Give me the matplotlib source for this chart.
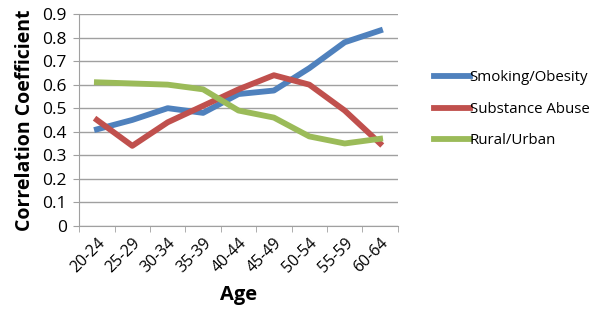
import numpy as np
import matplotlib.pyplot as plt

plt.rcParams['font.family'] = ['Open Sans', 'DejaVu Sans']

# Data
ages = ['20-24', '25-29', '30-34', '35-39', '40-44', '45-49', '50-54', '55-59', '60-64']
smoking = [0.41, 0.45, 0.50, 0.48, 0.56, 0.575, 0.67, 0.78, 0.83]
substance = [0.45, 0.34, 0.44, 0.51, 0.58, 0.64, 0.60, 0.49, 0.35]
rural = [0.61, 0.605, 0.60, 0.58, 0.49, 0.46, 0.38, 0.35, 0.37]

fig = plt.figure(figsize=(6, 3.19), dpi=100)
ax = fig.add_axes([0.132, 0.292, 0.531, 0.664])

x = np.arange(len(ages))
lw = 4.2
ax.plot(x, smoking, color='#4F81BD', lw=lw, label='Smoking/Obesity')
ax.plot(x, substance, color='#C0504D', lw=lw, label='Substance Abuse')
ax.plot(x, rural, color='#9BBB59', lw=lw, label='Rural/Urban')

ax.set_xlim(-0.5, len(ages) - 0.5)
ax.set_ylim(0, 0.9)
ax.set_yticks(np.arange(0, 0.91, 0.1))
ax.set_yticklabels(['0'] + ['%.1f' % v for v in np.arange(0.1, 0.91, 0.1)])
ax.yaxis.grid(True, color='#A0A0A0', lw=1)
ax.set_axisbelow(True)

ax.set_xticks(x)
ax.set_xticklabels(ages, rotation=45, ha='right', rotation_mode='anchor')
ax.set_xticks(np.arange(-0.5, len(ages)), minor=True)
ax.tick_params(axis='x', which='major', length=0, pad=7, labelsize=11.5)
ax.tick_params(axis='x', which='minor', length=4, color='#A0A0A0')
ax.tick_params(axis='y', length=4, color='#A0A0A0', labelsize=12.5, pad=5)

for s in ['top', 'right']:
    ax.spines[s].set_visible(False)
for s in ['left', 'bottom']:
    ax.spines[s].set_color('#A0A0A0')

ax.set_xlabel('Age', fontsize=14.5, fontweight='bold', labelpad=6)
ax.set_ylabel('Correlation Coefficient', fontsize=14, fontweight='bold', labelpad=5)

ax.legend(loc='center left', bbox_to_anchor=(1.07, 0.55), frameon=False,
          fontsize=10.8, handlelength=2.4, handletextpad=0.0, labelspacing=1.1)

fig.savefig('out.png', dpi=100)
